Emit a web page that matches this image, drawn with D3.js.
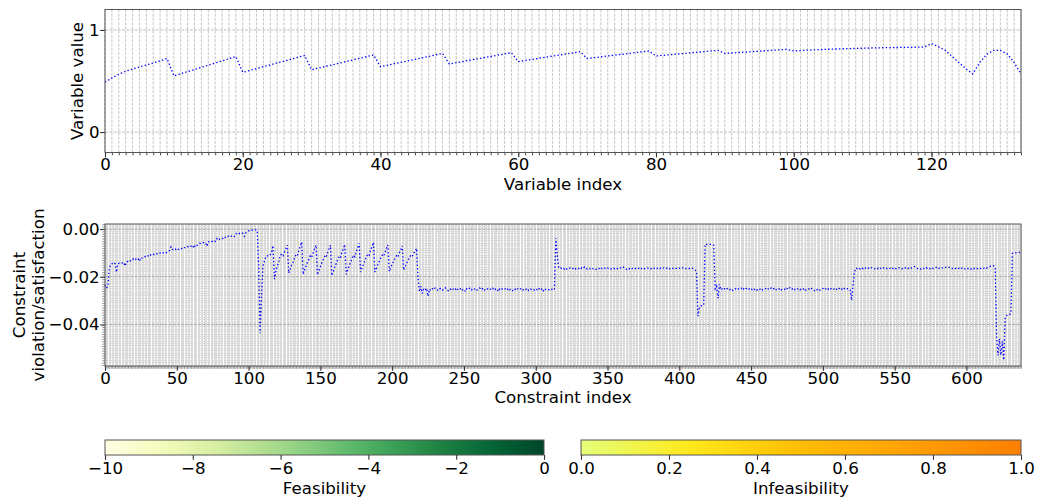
<!DOCTYPE html>
<html><head><meta charset="utf-8">
<script src="https://cdn.jsdelivr.net/npm/d3@7"></script>
<style>body{margin:0;background:#fff} text{font-family:"DejaVu Sans",sans-serif;}</style>
</head><body><svg id="c" width="1038" height="500"></svg>
<script>
// ---- Top panel: variable values (index 0..133)
const variableValues = [
 0.49,0.53,0.565,0.595,0.617,0.637,0.657,0.677,0.697,0.72,
 0.55,0.571,0.592,0.613,0.634,0.655,0.676,0.697,0.718,0.74,
 0.585,0.603,0.622,0.64,0.658,0.677,0.695,0.713,0.732,0.75,
 0.61,0.626,0.642,0.658,0.674,0.691,0.707,0.723,0.739,0.755,
 0.64,0.654,0.669,0.683,0.698,0.712,0.727,0.741,0.756,0.77,
 0.667,0.679,0.691,0.704,0.716,0.728,0.74,0.752,0.765,0.777,
 0.69,0.701,0.712,0.722,0.733,0.744,0.755,0.765,0.776,0.787,
 0.72,0.728,0.736,0.745,0.753,0.761,0.769,0.778,0.786,0.794,
 0.745,0.751,0.757,0.763,0.769,0.776,0.782,0.788,0.794,0.80,
 0.77,0.774,0.779,0.783,0.788,0.792,0.797,0.801,0.806,0.81,
 0.794,0.798,0.802,0.805,0.808,0.811,0.813,0.815,0.817,0.819,
 0.821,0.823,0.824,0.826,0.827,0.828,0.829,0.830,0.831,0.833,
 0.866,0.836,0.80,0.74,0.68,0.62,0.57,0.68,0.76,0.80,
 0.80,0.765,0.68,0.57
];
// ---- Bottom panel: constraint values, in consecutive index blocks
const constraintsRising = [ // 0..108
 -0.0235,-0.0248,-0.0240,-0.0165,-0.0150,-0.0145,-0.0140,-0.0145,-0.0180,-0.0145,
 -0.0143,-0.0145,-0.0142,-0.0140,-0.0155,-0.0138,-0.0136,-0.0130,-0.0134,-0.0128,
 -0.0125,-0.0130,-0.0122,-0.0124,-0.0135,-0.0120,-0.0122,-0.0118,-0.0115,-0.0117,
 -0.0112,-0.0116,-0.0108,-0.0110,-0.0106,-0.0108,-0.0104,-0.0106,-0.0101,-0.0100,
 -0.0103,-0.0098,-0.0096,-0.0099,-0.0094,-0.0090,-0.0075,-0.0085,-0.0088,-0.0084,
 -0.0090,-0.0086,-0.0082,-0.0084,-0.0078,-0.0080,-0.0076,-0.0072,-0.0074,-0.0070,
 -0.0072,-0.0068,-0.0080,-0.0066,-0.0069,-0.0064,-0.0060,-0.0062,-0.0058,-0.0056,
 -0.0058,-0.0072,-0.0054,-0.0052,-0.0050,-0.0053,-0.0048,-0.0052,-0.0040,-0.0046,
 -0.0042,-0.0038,-0.0040,-0.0032,-0.0036,-0.0034,-0.0030,-0.0034,-0.0030,-0.0028,
 -0.0032,-0.0020,-0.0018,-0.0022,-0.0017,-0.0015,-0.0018,-0.0030,-0.0016,-0.0012,
 -0.0008,-0.0006,-0.0004,-0.0005,-0.0003,-0.0004,-0.0006,-0.0150,-0.0437
];
const constraintsSaw = [ // 109..217
 -0.0280,
 -0.0155,-0.0135,-0.0118,-0.0112,-0.0115,-0.0108,-0.0095,-0.0070,
 -0.0210,-0.0178,-0.0155,-0.0140,-0.0110,-0.0105,-0.0112,-0.0095,-0.0082,-0.0068,
 -0.0185,-0.0168,-0.0150,-0.0138,-0.0122,-0.0108,-0.0112,-0.0090,-0.0072,-0.0055,
 -0.0190,-0.0172,-0.0155,-0.0140,-0.0128,-0.0112,-0.0118,-0.0098,-0.0082,-0.0068,
 -0.0192,-0.0175,-0.0158,-0.0142,-0.0128,-0.0115,-0.0120,-0.0100,-0.0085,-0.0068,
 -0.0195,-0.0178,-0.0160,-0.0145,-0.0130,-0.0115,-0.0120,-0.0098,-0.0082,-0.0065,
 -0.0190,-0.0172,-0.0155,-0.0140,-0.0125,-0.0110,-0.0116,-0.0095,-0.0078,-0.0060,
 -0.0180,-0.0165,-0.0148,-0.0132,-0.0118,-0.0105,-0.0110,-0.0090,-0.0072,-0.0056,
 -0.0180,-0.0165,-0.0150,-0.0136,-0.0122,-0.0110,-0.0115,-0.0098,-0.0082,-0.0067,
 -0.0178,-0.0162,-0.0148,-0.0135,-0.0122,-0.0112,-0.0118,-0.0100,-0.0086,-0.0071,
 -0.0172,-0.0158,-0.0145,-0.0132,-0.0120,-0.0110,-0.0115,-0.0102,-0.0092,-0.0081
];
const constraintsFlatLow1 = [ // 218..313
 -0.0200,-0.0262,-0.0240,-0.0270,-0.0250,-0.0255,-0.0248,-0.0282,-0.0252,-0.0258,
 -0.0250,-0.0255,-0.0247,-0.0253,-0.0258,-0.0251,-0.0249,-0.0256,-0.0252,-0.0246,
 -0.0254,-0.0258,-0.0250,-0.0253,-0.0248,-0.0256,-0.0251,-0.0259,-0.0250,-0.0254,
 -0.0247,-0.0255,-0.0252,-0.0262,-0.0250,-0.0253,-0.0248,-0.0257,-0.0251,-0.0254,
 -0.0249,-0.0256,-0.0252,-0.0247,-0.0255,-0.0250,-0.0258,-0.0252,-0.0249,-0.0255,
 -0.0251,-0.0254,-0.0248,-0.0257,-0.0252,-0.0250,-0.0262,-0.0251,-0.0255,-0.0249,
 -0.0253,-0.0250,-0.0256,-0.0248,-0.0254,-0.0251,-0.0258,-0.0250,-0.0253,-0.0247,
 -0.0255,-0.0252,-0.0249,-0.0256,-0.0251,-0.0254,-0.0248,-0.0257,-0.0250,-0.0253,
 -0.0251,-0.0255,-0.0249,-0.0254,-0.0247,-0.0256,-0.0252,-0.0262,-0.0250,-0.0254,
 -0.0252,-0.0255,-0.0250,-0.0253,-0.0251,-0.0254
];
const constraintsFlatHigh1 = [ // 314..412
 -0.0039,-0.0110,-0.0162,-0.0160,
 -0.0165,-0.0162,-0.0168,-0.0164,-0.0170,-0.0166,-0.0163,-0.0167,-0.0165,-0.0161,
 -0.0168,-0.0164,-0.0166,-0.0170,-0.0163,-0.0166,-0.0159,-0.0165,-0.0168,-0.0164,
 -0.0166,-0.0162,-0.0167,-0.0165,-0.0169,-0.0164,-0.0166,-0.0160,-0.0165,-0.0168,
 -0.0164,-0.0167,-0.0163,-0.0166,-0.0169,-0.0165,-0.0162,-0.0167,-0.0164,-0.0166,
 -0.0168,-0.0163,-0.0165,-0.0160,-0.0166,-0.0169,-0.0164,-0.0167,-0.0162,-0.0166,
 -0.0165,-0.0168,-0.0163,-0.0166,-0.0164,-0.0169,-0.0165,-0.0162,-0.0167,-0.0165,
 -0.0163,-0.0166,-0.0168,-0.0164,-0.0167,-0.0162,-0.0166,-0.0165,-0.0169,-0.0164,
 -0.0166,-0.0163,-0.0167,-0.0165,-0.0161,-0.0166,-0.0168,-0.0164,-0.0166,-0.0163,
 -0.0165,-0.0167,-0.0164,-0.0166,-0.0162,-0.0165,-0.0168,-0.0164,-0.0166,-0.0165,
 -0.0167,-0.0164,-0.0168,-0.0172,-0.0178
];
const constraintsDip = [ // 413..429
 -0.0365,-0.0330,-0.0322,-0.0322,-0.0318,
 -0.0064,-0.0064,-0.0064,-0.0064,-0.0064,-0.0065,-0.0068,
 -0.0250,-0.0240,-0.0290,-0.0232,-0.0255
];
const constraintsFlatLow2 = [ // 430..523
 -0.0250,-0.0246,-0.0255,-0.0251,-0.0248,-0.0254,-0.0250,-0.0257,-0.0252,-0.0249,
 -0.0255,-0.0251,-0.0253,-0.0248,-0.0256,-0.0250,-0.0254,-0.0247,-0.0253,-0.0251,
 -0.0256,-0.0249,-0.0254,-0.0251,-0.0257,-0.0250,-0.0253,-0.0248,-0.0255,-0.0252,
 -0.0249,-0.0256,-0.0251,-0.0254,-0.0247,-0.0253,-0.0250,-0.0257,-0.0251,-0.0254,
 -0.0248,-0.0255,-0.0252,-0.0250,-0.0256,-0.0249,-0.0253,-0.0246,-0.0254,-0.0251,
 -0.0257,-0.0250,-0.0253,-0.0249,-0.0255,-0.0251,-0.0254,-0.0248,-0.0256,-0.0252,
 -0.0250,-0.0255,-0.0249,-0.0253,-0.0258,-0.0251,-0.0254,-0.0250,-0.0256,-0.0252,
 -0.0249,-0.0255,-0.0251,-0.0257,-0.0250,-0.0254,-0.0248,-0.0253,-0.0251,-0.0256,
 -0.0250,-0.0246,-0.0254,-0.0251,-0.0257,-0.0249,-0.0253,-0.0250,-0.0252,-0.0255,
 -0.0298,-0.0235,-0.0180,-0.0164
];
const constraintsFlatHigh2 = [ // 524..620
 -0.0166,-0.0162,-0.0168,-0.0163,-0.0166,-0.0161,-0.0165,-0.0168,-0.0163,-0.0166,
 -0.0162,-0.0165,-0.0167,-0.0163,-0.0166,-0.0160,-0.0164,-0.0167,-0.0162,-0.0165,
 -0.0168,-0.0163,-0.0166,-0.0164,-0.0160,-0.0166,-0.0163,-0.0167,-0.0164,-0.0162,
 -0.0166,-0.0168,-0.0163,-0.0165,-0.0161,-0.0166,-0.0164,-0.0167,-0.0162,-0.0160,
 -0.0157,-0.0163,-0.0166,-0.0164,-0.0168,-0.0163,-0.0165,-0.0167,-0.0162,-0.0166,
 -0.0164,-0.0168,-0.0163,-0.0166,-0.0165,-0.0161,-0.0167,-0.0164,-0.0166,-0.0163,
 -0.0165,-0.0162,-0.0160,-0.0158,-0.0161,-0.0163,-0.0166,-0.0164,-0.0167,-0.0163,
 -0.0166,-0.0164,-0.0168,-0.0162,-0.0165,-0.0167,-0.0163,-0.0166,-0.0164,-0.0168,
 -0.0163,-0.0166,-0.0162,-0.0165,-0.0167,-0.0164,-0.0166,-0.0163,-0.0165,-0.0161,
 -0.0164,-0.0160,-0.0158,-0.0155,-0.0156,-0.0154,-0.0160
];
const constraintsTail = [ // 621..638
 -0.0455,-0.0530,-0.0460,-0.0528,-0.0470,-0.0549,-0.0370,-0.0362,-0.0362,-0.0360,
 -0.0350,-0.0102,-0.0100,-0.0100,-0.0099,-0.0100,-0.0098,-0.0098
];
const variableTicks = [0,20,40,60,80,100,120];
const valueTicks = [0,1];
const constraintTicks = [0,50,100,150,200,250,300,350,400,450,500,550,600];
const violationTicks = [0,-0.02,-0.04];
const feasibilityTicks = [-10,-8,-6,-4,-2,0];
const infeasibilityTicks = [0,0.2,0.4,0.6,0.8,1.0];
const wistiaColors = ["#e4ff7a","#ffe81a","#ffbd00","#ffa000","#fc7f00"];

const constraintValues = [].concat(constraintsRising, constraintsSaw, constraintsFlatLow1,
  constraintsFlatHigh1, constraintsDip, constraintsFlatLow2, constraintsFlatHigh2, constraintsTail);

const svg = d3.select("#c");
const FS = 16.67, L = 105, R = 1021;
const SPINE = "#555";

function styleAxis(g, w){
  g.select(".domain").remove();
  g.selectAll("text").attr("font-size", FS).attr("font-family","DejaVu Sans").attr("fill","#000");
  g.selectAll("line").attr("stroke", "#333").attr("stroke-width", w || 1.1);
}

// ===== Top panel =====
const xTop = d3.scaleLinear().domain([0, variableValues.length - 1]).range([L, R]);
const yTop = d3.scaleLinear().domain([-0.2, 1.2]).range([152.5, 9.5]);
const topG = svg.append("g");
topG.append("g").selectAll("line").data(d3.range(variableValues.length)).join("line")
  .attr("x1", d => xTop(d)).attr("x2", d => xTop(d)).attr("y1", 9.5).attr("y2", 152.5)
  .attr("stroke", "#b8b8b8").attr("stroke-width", 0.8).attr("stroke-dasharray", "2.96,1.28");
topG.append("g").selectAll("line").data(valueTicks).join("line")
  .attr("x1", L).attr("x2", R).attr("y1", d => yTop(d)).attr("y2", d => yTop(d))
  .attr("stroke", "#b0b0b0").attr("stroke-width", 0.8).attr("stroke-dasharray", "2.96,1.28");
topG.append("path").datum(variableValues)
  .attr("d", d3.line().x((d,i) => xTop(i)).y(d => yTop(d)))
  .attr("fill","none").attr("stroke","#0000ff").attr("stroke-width",1.3).attr("stroke-dasharray","1.4,2.2");
topG.append("g").attr("transform","translate(0,152.5)")
  .call(d3.axisBottom(xTop).tickValues(d3.range(variableValues.length)).tickSize(2.8).tickFormat(""))
  .call(g => styleAxis(g, 0.9));
topG.append("g").attr("transform","translate(0,152.5)")
  .call(d3.axisBottom(xTop).tickValues(variableTicks).tickSize(4.86).tickPadding(1).tickFormat(d3.format("d")))
  .call(g => styleAxis(g));
topG.append("g").attr("transform",`translate(${L},0)`)
  .call(d3.axisLeft(yTop).tickValues(valueTicks).tickSize(4.86).tickPadding(0.5).tickFormat(d3.format("d")))
  .call(g => styleAxis(g));
topG.append("rect").attr("x",L).attr("y",9.5).attr("width",R-L).attr("height",143)
  .attr("fill","none").attr("stroke",SPINE).attr("stroke-width",1);
topG.append("text").attr("x",(L+R)/2).attr("y",190).attr("text-anchor","middle")
  .attr("font-size",FS).text("Variable index");
topG.append("text").attr("transform","translate(83,81) rotate(-90)").attr("text-anchor","middle")
  .attr("font-size",FS).text("Variable value");

// ===== Bottom panel =====
const xBot = d3.scaleLinear().domain([0, constraintValues.length - 1]).range([L, R]);
const yBot = d3.scaleLinear().domain([-0.0574, 0.0021]).range([366, 224]);
const botG = svg.append("g");
botG.append("g").attr("shape-rendering","crispEdges").selectAll("line").data(d3.range(constraintValues.length)).join("line")
  .attr("x1", d => xBot(d)).attr("x2", d => xBot(d)).attr("y1", 224).attr("y2", 366)
  .attr("stroke", "#d4d4d4").attr("stroke-width", 0.8);
const yMinor = d3.range(-57, 3).map(k => k / 1000);
botG.append("g").attr("shape-rendering","crispEdges").selectAll("line").data(yMinor).join("line")
  .attr("x1", L).attr("x2", R).attr("y1", d => yBot(d)).attr("y2", d => yBot(d))
  .attr("stroke", "#d4d4d4").attr("stroke-width", 0.8).attr("stroke-dasharray", "2.96,1.28");
botG.append("g").selectAll("line").data(violationTicks).join("line")
  .attr("x1", L).attr("x2", R).attr("y1", d => yBot(d)).attr("y2", d => yBot(d))
  .attr("stroke", "#a8a8a8").attr("stroke-width", 1).attr("stroke-dasharray", "2.96,1.28");
botG.append("path").datum(constraintValues)
  .attr("d", d3.line().x((d,i) => xBot(i)).y(d => yBot(d)))
  .attr("fill","none").attr("stroke","#0000ff").attr("stroke-width",1.3).attr("stroke-dasharray","1.4,2.2");
botG.append("g").attr("transform","translate(0,366)")
  .call(d3.axisBottom(xBot).tickValues(d3.range(constraintValues.length)).tickSize(2.8).tickFormat(""))
  .call(g => { styleAxis(g, 0.6); g.selectAll("line").attr("stroke", "#555"); });
botG.append("g").attr("transform","translate(0,366)")
  .call(d3.axisBottom(xBot).tickValues(constraintTicks).tickSize(4.86).tickPadding(1).tickFormat(d3.format("d")))
  .call(g => styleAxis(g));
botG.append("g").attr("transform",`translate(${L},0)`)
  .call(d3.axisLeft(yBot).tickValues(yMinor).tickSize(2.8).tickFormat(""))
  .call(g => { styleAxis(g, 0.6); g.selectAll("line").attr("stroke", "#555"); });
botG.append("g").attr("transform",`translate(${L},0)`)
  .call(d3.axisLeft(yBot).tickValues(violationTicks).tickSize(4.86).tickPadding(0.5).tickFormat(d3.format(".2f")))
  .call(g => styleAxis(g));
botG.append("rect").attr("x",L).attr("y",224).attr("width",R-L).attr("height",142)
  .attr("fill","none").attr("stroke",SPINE).attr("stroke-width",1);
botG.append("text").attr("x",(L+R)/2).attr("y",403).attr("text-anchor","middle")
  .attr("font-size",FS).text("Constraint index");
botG.append("text").attr("transform","translate(25,295) rotate(-90)").attr("text-anchor","middle")
  .attr("font-size",FS).text("Constraint");
botG.append("text").attr("transform","translate(44,295) rotate(-90)").attr("text-anchor","middle")
  .attr("font-size",FS).text("violation/satisfaction");

// ===== Colorbars =====
const defs = svg.append("defs");
function colorbar(id, x0, x1, domain, ticks, interp, fmt, label){
  const sc = d3.scaleLinear().domain(domain).range([x0, x1]);
  const grad = defs.append("linearGradient").attr("id", id).attr("x1","0%").attr("x2","100%");
  d3.range(0, 1.0001, 0.05).forEach(t => grad.append("stop").attr("offset", (t*100)+"%").attr("stop-color", interp(t)));
  const g = svg.append("g");
  g.append("rect").attr("x",x0).attr("y",440).attr("width",x1-x0).attr("height",15).attr("fill",`url(#${id})`)
    .attr("stroke",SPINE).attr("stroke-width",1);
  g.append("g").attr("transform","translate(0,455)")
    .call(d3.axisBottom(sc).tickValues(ticks).tickSize(4.86).tickPadding(2).tickFormat(fmt))
    .call(g2 => styleAxis(g2));
  g.append("text").attr("x",(x0+x1)/2).attr("y",494).attr("text-anchor","middle").attr("font-size",FS).text(label);
}
const wistia = d3.scaleLinear().domain([0,0.25,0.5,0.75,1]).range(wistiaColors);
colorbar("gFeas", 105, 544, [-10, 0], feasibilityTicks, d3.interpolateYlGn, d3.format("d"), "Feasibility");
colorbar("gInfeas", 581, 1021, [0, 1], infeasibilityTicks, t => wistia(t), d3.format(".1f"), "Infeasibility");
</script></body></html>
